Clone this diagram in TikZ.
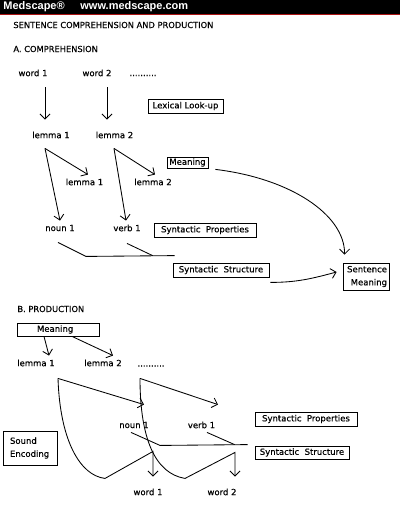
\documentclass[tikz,border=0pt]{standalone}
\usepackage{fontspec}
\setmainfont{DejaVu Sans}[FakeBold=0.4]
\newfontfamily\headfont{Liberation Sans}
\usetikzlibrary{arrows.meta,shadows}
\definecolor{medred}{RGB}{170,20,20}
\tikzset{
    head-text/.style = {text=white, inner sep=0pt, font=\headfont\bfseries\fontsize{11}{12}\selectfont},
    caps-text/.style = {inner sep=0pt, font=\fontsize{8.3}{10}\selectfont},
    word-text/.style = {inner sep=0pt, minimum height=10pt, font=\fontsize{8.5}{13}\selectfont},
    stage-box/.style = {draw, fill=white, line width=0.8pt, inner xsep=2pt, inner ysep=1pt, minimum height=14pt,
        drop shadow={shadow xshift=1.3pt, shadow yshift=-1.3pt, fill=black!45, opacity=1},
        font=\fontsize{8.5}{13}\selectfont},
    open-arrow/.style = {-{Straight Barb[length=5pt,width=10pt,line width=0.85pt]}},
}

\begin{document}
\begin{tikzpicture}[x=1pt, y=-1pt, line width=0.85pt]
\useasboundingbox (0,0) rectangle (400,509);
\fill[black] (0,0) rectangle (400,13.5);
\fill[medred] (0,13.5) rectangle (400,15);
\node[head-text, anchor=west] (brand) at (3,7) {Medscape®};
\node[head-text, anchor=west] (site) at (80,7) {www.medscape.com};

\node[caps-text, anchor=west] (title) at (13,25) {SENTENCE COMPREHENSION AND PRODUCTION};
\node[caps-text, anchor=west] (partA) at (13,49) {A. COMPREHENSION};

\node[word-text] (cw1) at (33,73) {word 1};
\node[word-text] (cw2) at (97,73) {word 2};
\node[word-text] (cdots) at (143,75.5) {..........};
\node[stage-box, minimum width=75pt] (lookup) at (185.5,106) {Lexical Look-up};
\node[word-text] (clm1) at (51,135) {lemma 1};
\node[word-text] (clm2) at (114.5,135) {lemma 2};
\node[word-text] (clm1b) at (84.5,182) {lemma 1};
\node[word-text] (clm2b) at (153,182) {lemma 2};
\node[stage-box, minimum width=41pt, minimum height=11pt] (cmean) at (187.5,162.5) {Meaning};
\node[word-text] (noun) at (60,228) {noun 1};
\node[word-text] (verb) at (127,228) {verb 1};
\node[stage-box, minimum width=102pt] (cprop) at (205,230) {Syntactic\ \ Properties};
\node[stage-box, minimum width=96pt] (cstruct) at (221,270) {Syntactic\ \ Structure};
\node[stage-box, minimum width=46pt, minimum height=27pt, text width=42pt, align=right] (sentence) at (366,276.5) {Sentence\\Meaning};

\draw[open-arrow] ([shift={(12,9)}]cw1.south) -- ([shift={(-6,-10)}]clm1.north);
\draw[open-arrow] ([shift={(10,9)}]cw2.south) -- ([shift={(-7.5,-10)}]clm2.north);
\draw[open-arrow] ([shift={(-6,8)}]clm1.south) -- ([shift={(3.5,-2)}]clm1b.north);
\draw[open-arrow] ([shift={(-6,8)}]clm1.south) -- ([shift={(0,-2)}]noun.north);
\draw[open-arrow] ([shift={(-0.5,8)}]clm2.south) -- ([shift={(2,-2)}]clm2b.north);
\draw[open-arrow] ([shift={(-0.5,8)}]clm2.south) -- ([shift={(-1,-2)}]verb.north);
\draw ([shift={(-2,9)}]noun.south) -- ++(28,14) -- ([shift={(2,-7)}]cstruct.north west);
\draw ([shift={(0,10)}]verb.south) -- ([shift={(-20,-7)}]cstruct.north west);
\draw[open-arrow] ([shift={(7,1)}]cmean.south east) .. controls +(75,9) and +(0,-40) .. ([shift={(2,-8)}]sentence.north west);
\draw[open-arrow] ([shift={(1,5)}]cstruct.south east) to[out=0, in=195] ([shift={(-6,-4.5)}]sentence.west);

\node[caps-text, anchor=west] (partB) at (17,309) {B. PRODUCTION};
\node[stage-box, text width=42pt, inner xsep=20pt, minimum height=13pt, align=left] (pmean) at (58,329.5) {Meaning};
\node[word-text] (plm1) at (36,363) {lemma 1};
\node[word-text] (plm2) at (103,363) {lemma 2};
\node[word-text] (pdots) at (151,366) {..........};
\node[word-text] (pnoun) at (134,425) {noun 1};
\node[word-text] (pverb) at (201.5,425) {verb 1};
\node[stage-box, minimum width=102pt] (pprop) at (306,419) {Syntactic\ \ Properties};
\node[stage-box, minimum width=94pt, minimum height=13pt] (pstruct) at (302,452.5) {Syntactic\ \ Structure};
\node[stage-box, minimum height=34pt, text width=40pt, inner xsep=7pt, align=left] (sound) at (30,448) {Sound\\Encoding};
\node[word-text] (pw1) at (148,492) {word 1};
\node[word-text] (pw2) at (222,492) {word 2};

\draw[open-arrow] ([shift={(-14,0)}]pmean.south) -- ([shift={(13,-2)}]plm1.north);
\draw[open-arrow] ([shift={(14,0)}]pmean.south) -- ([shift={(10,-2)}]plm2.north);
\draw[open-arrow] ([shift={(22,10)}]plm1.south) -- ([shift={(10,-15)}]pnoun.north);
\draw[open-arrow] ([shift={(22,10)}]plm1.south) .. controls +(2,62) and +(-25,-3) .. ++(47,100) -- ++(48,-27) -- ([shift={(5,-10)}]pw1.north);
\draw[open-arrow] ([shift={(37,10)}]plm2.south) -- ([shift={(16.5,-15)}]pverb.north);
\draw[open-arrow] ([shift={(37,10)}]plm2.south) .. controls +(0,60) and +(-30,-5) .. ++(45,100) -- ++(50,-26) -- ([shift={(13,-10)}]pw2.north);
\draw ([shift={(-3,2)}]pnoun.south) -- ++(29,13) -- ([shift={(-7,-1)}]pstruct.north west);
\draw ([shift={(5.5,2)}]pverb.south) -- ([shift={(-20,-1)}]pstruct.north west);
\end{tikzpicture}
\end{document}
